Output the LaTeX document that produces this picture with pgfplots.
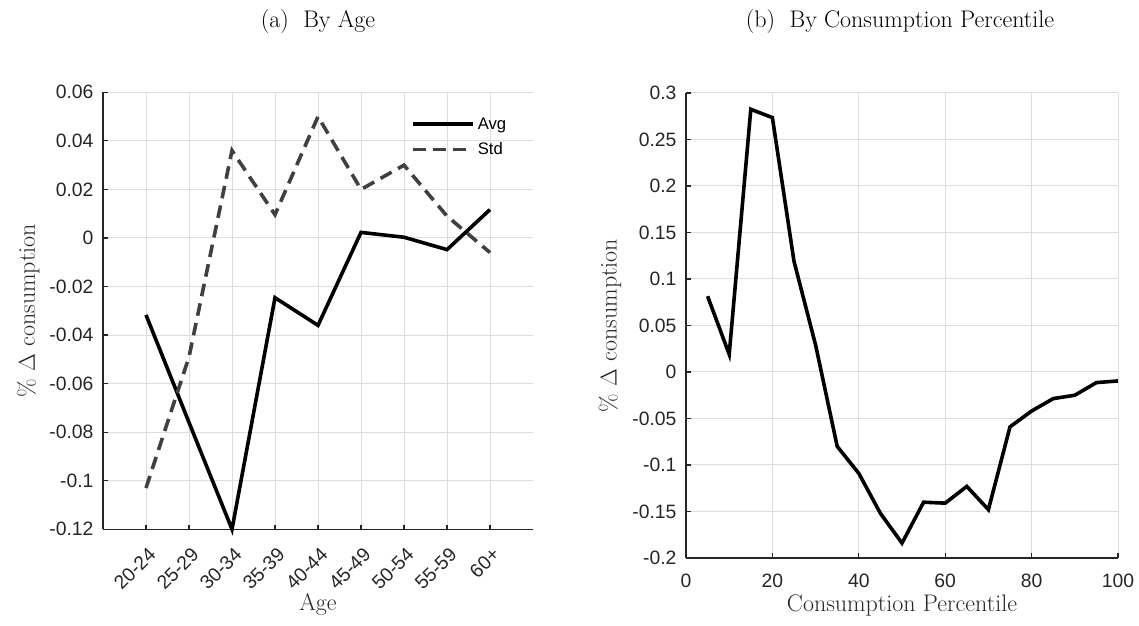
\documentclass[border=0pt]{standalone}
\usepackage{pgfplots}
\pgfplotsset{compat=1.18}
\usepackage{fontspec}
\newfontfamily\arial{Liberation Sans}
\definecolor{axgray}{HTML}{262626}
\definecolor{gridgray}{HTML}{DDDDDD}
\definecolor{stdgray}{HTML}{404040}

\pgfplotstableread{
x avg std
1 -0.0317 -0.103
2 -0.0760 -0.049
3 -0.1200 0.036
4 -0.0246 0.0096
5 -0.0360 0.050
6 0.0023 0.020
7 0.0003 0.030
8 -0.0048 0.009
9 0.0117 -0.006
}\agedata

\pgfplotstableread{
x y
5 0.0815
10 0.019
15 0.2825
20 0.2735
25 0.119
30 0.029
35 -0.080
40 -0.109
45 -0.152
50 -0.184
55 -0.140
60 -0.141
65 -0.123
70 -0.148
75 -0.059
80 -0.042
85 -0.0286
90 -0.025
95 -0.0114
100 -0.0096
}\pctdata

\pgfplotsset{
  common/.style={
    scale only axis,
    axis x line*=bottom, axis y line*=left,
    axis line style={axgray, line width=0.9pt, -},
    every tick/.style={axgray, line width=0.9pt},
    tick align=inside,
    major tick length=3.5pt,
    grid=major,
    major grid style={gridgray, line width=0.75pt},
    tick label style={font=\arial\fontsize{14.5}{17}\selectfont, text=axgray},
    y tick label style={anchor=east, inner sep=0pt, xshift=-7pt},
    label style={font=\fontsize{18}{20}\selectfont, text=axgray},
    clip=false,
  }
}

\begin{document}
\begin{tikzpicture}
\path (0pt,0pt) rectangle (854.25pt,468.75pt);

\node[font=\fontsize{18}{20}\selectfont] at (238.5pt,452.25pt) {(a)~~By Age};
\node[font=\fontsize{18}{20}\selectfont] at (675pt,452.25pt) {(b)~~By Consumption Percentile};

\begin{axis}[common,
  at={(77.25pt,71.8pt)}, anchor=south west,
  width=322.5pt, height=327.7pt,
  xmin=0, xmax=10, ymin=-0.12, ymax=0.06,
  xtick={1,2,3,4,5,6,7,8,9},
  xticklabels={20-24,25-29,30-34,35-39,40-44,45-49,50-54,55-59,60+},
  ytick={-0.12,-0.1,-0.08,-0.06,-0.04,-0.02,0,0.02,0.04,0.06},
  yticklabels={-0.12,-0.1,-0.08,-0.06,-0.04,-0.02,0,0.02,0.04,0.06},
  x tick label style={xshift=4.8pt, yshift=-16.3pt, rotate=45, anchor=east, inner sep=0pt},
  xlabel={Age},
  ylabel={\% $\Delta$ consumption},
  xlabel style={at={(axis description cs:0.5,-0.173)}, anchor=center},
  ylabel style={at={(axis description cs:-0.174,0.5)}, anchor=center},
  legend style={draw=none, fill=none, at={(axis description cs:0.717,0.949)}, anchor=north west,
    font=\arial\fontsize{12.5}{14}\selectfont, text=black, row sep=4.5pt, inner sep=0pt},
  legend image code/.code={\draw[#1] (0pt,0pt) -- (45pt,0pt);},
  legend cell align=left,
  /tikz/every even column/.append style={column sep=4pt},
]
\addplot[black, line width=2.7pt] table[x=x, y=avg] {\agedata};
\addlegendentry{Avg}
\addplot[stdgray, line width=2.7pt, dash pattern=on 9.5pt off 5.5pt] table[x=x, y=std] {\agedata};
\addlegendentry{Std}
\end{axis}

\begin{axis}[common,
  at={(514.5pt,50.25pt)}, anchor=south west,
  width=324pt, height=348.75pt,
  xmin=0, xmax=100, ymin=-0.2, ymax=0.3,
  xtick={0,20,40,60,80,100},
  xticklabels={0,20,40,60,80,100},
  ytick={-0.2,-0.15,-0.1,-0.05,0,0.05,0.1,0.15,0.2,0.25,0.3},
  yticklabels={-0.2,-0.15,-0.1,-0.05,0,0.05,0.1,0.15,0.2,0.25,0.3},
  x tick label style={anchor=north, inner sep=0pt, yshift=-11.5pt},
  xlabel={Consumption Percentile},
  ylabel={\% $\Delta$ consumption},
  xlabel style={at={(axis description cs:0.5,-0.101)}, anchor=center},
  ylabel style={at={(axis description cs:-0.176,0.5)}, anchor=center},
]
\addplot[black, line width=2.7pt] table[x=x, y=y] {\pctdata};
\end{axis}
\end{tikzpicture}
\end{document}
